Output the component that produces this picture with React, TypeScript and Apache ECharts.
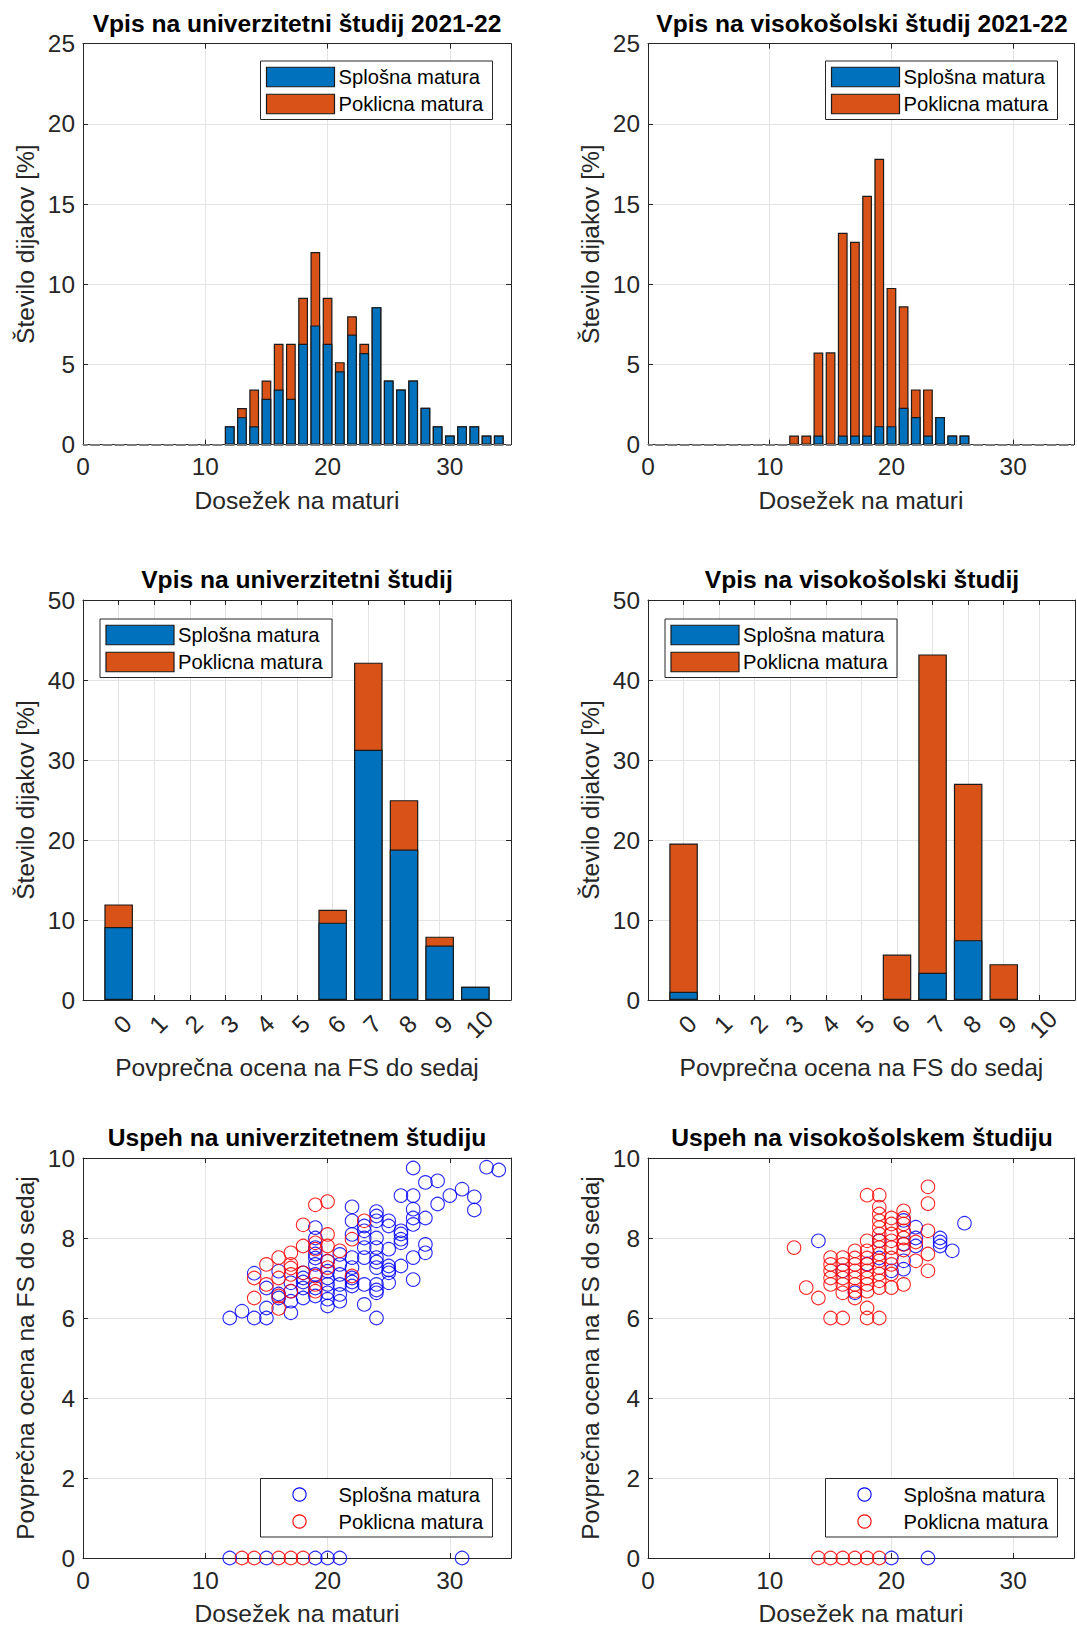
import React, { useEffect, useRef } from "react";
import * as echarts from "echarts";

// ---------- texts ----------
const LEGEND_LABELS = ["Splošna matura", "Poklicna matura"];
const PLOT_TITLES = [
  "Vpis na univerzitetni študij 2021-22",
  "Vpis na visokošolski študij 2021-22",
  "Vpis na univerzitetni študij",
  "Vpis na visokošolski študij",
  "Uspeh na univerzitetnem študiju",
  "Uspeh na visokošolskem študiju",
];
const X_NAME_MATURA = "Dosežek na maturi";
const X_NAME_OCENA = "Povprečna ocena na FS do sedaj";
const Y_NAME_PCT = "Število dijakov [%]";
const Y_NAME_OCENA = "Povprečna ocena na FS do sedaj";

// ---------- tick labels ----------
const MATURA_TICKS = [0, 10, 20, 30];
const PCT25_TICKS = [0, 5, 10, 15, 20, 25];
const PCT50_TICKS = [0, 10, 20, 30, 40, 50];
const OCENA_CATS = [0, 1, 2, 3, 4, 5, 6, 7, 8, 9, 10];
const OCENA_TICKS = [0, 2, 4, 6, 8, 10];

// ---------- top row: histograms over Dosežek ----------
const uniBins = [12, 13, 14, 15, 16, 17, 18, 19, 20, 21, 22, 23, 24, 25, 26, 27, 28, 29, 30, 31, 32, 33, 34];
const uniSplosnaPct = [1.14, 1.71, 1.14, 2.86, 3.43, 2.86, 6.29, 7.43, 6.29, 4.57, 6.86, 5.71, 8.57, 4.0, 3.43, 4.0, 2.29, 1.14, 0.57, 1.14, 1.14, 0.57, 0.57];
const uniPoklicnaPct = [0, 0.57, 2.29, 1.14, 2.86, 3.43, 2.86, 4.57, 2.86, 0.57, 1.14, 0.57, 0, 0, 0, 0, 0, 0, 0, 0, 0, 0, 0];

const visBins = [12, 13, 14, 15, 16, 17, 18, 19, 20, 21, 22, 23, 24, 25, 26];
const visSplosnaPct = [0, 0, 0.57, 0, 0.57, 0.57, 0.57, 1.15, 1.15, 2.3, 1.72, 0.57, 1.72, 0.57, 0.57];
const visPoklicnaPct = [0.57, 0.57, 5.17, 5.75, 12.64, 12.07, 14.94, 16.67, 8.62, 6.32, 1.72, 2.87, 0, 0, 0];

// ---------- middle row: histograms over average grade ----------
const uniOcenaSplosna = [9.13, 0, 0, 0, 0, 0, 9.67, 31.29, 18.8, 6.8, 1.66];
const uniOcenaPoklicna = [2.82, 0, 0, 0, 0, 0, 1.61, 10.88, 6.18, 1.12, 0];
const visOcenaSplosna = [1.03, 0, 0, 0, 0, 0, 0, 3.4, 7.48, 0, 0];
const visOcenaPoklicna = [18.53, 0, 0, 0, 0, 0, 5.68, 39.8, 19.56, 4.48, 0];

// ---------- bottom row: scatter [Dosežek, ocena] ----------
const uniSplosnaPoints: [number, number][] = [
  [12, 0], [15, 0], [19, 0], [20, 0], [21, 0], [31, 0],
  [12, 6.0], [13, 6.17], [14, 6.0], [14, 7.12], [15, 6.0], [15, 6.25], [15, 6.75],
  [16, 6.5], [16, 7.17], [16, 6.6],
  [17, 6.13], [17, 6.42], [17, 6.67], [17, 6.88],
  [18, 6.5], [18, 6.75], [18, 7.0], [18, 7.13], [18, 6.9],
  [19, 8.26], [19, 8.0], [19, 7.76], [19, 7.6], [19, 7.34], [19, 7.09], [19, 6.75], [19, 6.55], [19, 7.5],
  [20, 6.3], [20, 6.47], [20, 6.63], [20, 6.84], [20, 7.0], [20, 7.17], [20, 7.42],
  [21, 6.42], [21, 6.59], [21, 6.84], [21, 7.09], [21, 7.34], [21, 7.59],
  [22, 8.78], [22, 8.43], [22, 8.09], [22, 7.51], [22, 7.26], [22, 7.0], [22, 6.8], [22, 6.9],
  [23, 6.34], [23, 6.84], [23, 7.51], [23, 7.76], [23, 8.0], [23, 8.18], [23, 8.3],
  [24, 6.0], [24, 6.63], [24, 6.84], [24, 7.26], [24, 7.51], [24, 7.76], [24, 8.0], [24, 8.43], [24, 8.55], [24, 8.66], [24, 7.4], [24, 6.7],
  [25, 6.88], [25, 7.13], [25, 7.3], [25, 7.72], [25, 8.3], [25, 8.43], [25, 7.2],
  [26, 7.3], [26, 7.88], [26, 7.97], [26, 8.18], [26, 9.06], [26, 8.1],
  [27, 6.96], [27, 7.51], [27, 8.34], [27, 8.5], [27, 8.72], [27, 9.06], [27, 9.75],
  [28, 7.63], [28, 7.84], [28, 8.5], [28, 9.39],
  [29, 8.85], [29, 9.43],
  [30, 9.06], [31, 9.22], [32, 9.03], [32, 8.7], [33, 9.77], [34, 9.7],
];
const uniPoklicnaPoints: [number, number][] = [
  [13, 0], [14, 0], [16, 0], [17, 0], [18, 0],
  [14, 7.0], [14, 6.5], [15, 7.34], [15, 6.84],
  [16, 7.51], [16, 7.0], [16, 6.55], [16, 6.24],
  [17, 7.63], [17, 7.34], [17, 7.09], [17, 6.67], [17, 7.25],
  [18, 8.33], [18, 7.8], [18, 7.13],
  [19, 8.83], [19, 7.88], [19, 7.72], [19, 7.05], [19, 6.84], [19, 6.67],
  [20, 8.91], [20, 8.09], [20, 7.8], [20, 7.42], [20, 7.26],
  [21, 7.68], [22, 7.97], [22, 7.05], [23, 8.43],
];
const visSplosnaPoints: [number, number][] = [
  [20, 0], [23, 0],
  [14, 7.93], [16, 7.18], [17, 6.63], [18, 7.35], [19, 7.93], [19, 7.5], [20, 7.18],
  [21, 8.44], [21, 7.85], [21, 7.43], [21, 7.22], [22, 8.27], [22, 8.0], [22, 7.8],
  [24, 8.0], [24, 7.8], [24, 7.9], [25, 7.68], [26, 8.37],
];
const visPoklicnaPoints: [number, number][] = [
  [14, 0], [15, 0], [16, 0], [17, 0], [18, 0], [19, 0],
  [12, 7.76], [13, 6.76], [14, 6.5],
  [15, 7.51], [15, 7.34], [15, 7.18], [15, 7.0], [15, 6.84], [15, 6.0],
  [16, 7.51], [16, 7.34], [16, 7.18], [16, 7.0], [16, 6.84], [16, 6.63], [16, 6.0],
  [17, 7.68], [17, 7.5], [17, 7.34], [17, 7.18], [17, 7.0], [17, 6.84], [17, 6.67], [17, 6.5],
  [18, 9.07], [18, 7.93], [18, 7.68], [18, 7.5], [18, 7.34], [18, 7.18], [18, 7.0], [18, 6.84], [18, 6.67], [18, 6.25], [18, 6.0],
  [19, 9.07], [19, 8.77], [19, 8.6], [19, 8.43], [19, 8.26], [19, 8.1], [19, 7.93], [19, 7.76], [19, 7.6], [19, 7.43], [19, 7.26], [19, 7.1], [19, 6.93], [19, 6.76], [19, 6.0],
  [20, 8.5], [20, 8.35], [20, 8.1], [20, 7.93], [20, 7.76], [20, 7.5], [20, 7.34], [20, 7.1], [20, 6.76],
  [21, 8.68], [21, 8.5], [21, 8.35], [21, 8.18], [21, 8.0], [21, 7.84], [21, 7.7], [21, 6.84],
  [22, 7.43], [22, 7.9],
  [23, 9.28], [23, 8.86], [23, 8.18], [23, 7.6], [23, 7.18],
];

// ---------- styling / layout ----------
const FONT = "'Liberation Sans', Arial, Helvetica, sans-serif";
const INK = "#262626";
const GRIDLINE = "#e3e3e3";
const BLUE_BAR = "#0072bd";
const ORANGE_BAR = "#d95319";
const BLUE_PT = "#0000ff";
const RED_PT = "#ff0000";
const TICK_FS = 24.4;
const LABEL_FS = 24.6;
const LEGEND_FS = 20.2;

const COL_LEFT = [83, 648];
const PLOT_W = 428;
const ROW_TOP = [43.6, 600, 1158];
const PLOT_H = [401, 400, 400];

const rect = (g: number) => {
  const row = Math.floor(g / 2);
  const col = g % 2;
  return { left: COL_LEFT[col], top: ROW_TOP[row], width: PLOT_W, height: PLOT_H[row] };
};

const fmt = (labels: number[]) => (v: number) =>
  labels.some((l) => Math.abs(l - v) < 1e-9) ? String(v) : "";

function xAxes(g: number, min: number, max: number, interval: number, labels: number[], name: string, nameGap: number, rotate: boolean) {
  const common = {
    type: "value", gridIndex: g, min, max, interval,
    axisLine: { show: true, onZero: false, lineStyle: { color: INK, width: 1 } },
    axisTick: { show: true, inside: true, length: 5, lineStyle: { color: INK, width: 1 } },
  };
  return [
    {
      ...common, position: "bottom",
      axisLabel: rotate
        ? { rotate: 45, align: "center", verticalAlign: "middle", margin: 28, padding: [0, 0, 0, 11], color: INK, fontSize: TICK_FS, fontFamily: FONT, formatter: fmt(labels) }
        : { margin: 10, color: INK, fontSize: TICK_FS, fontFamily: FONT, formatter: fmt(labels) },
      splitLine: { show: true, lineStyle: { color: GRIDLINE, width: 1 } },
      name, nameLocation: "middle", nameGap,
      nameTextStyle: { color: INK, fontSize: LABEL_FS, fontFamily: FONT },
    },
    { ...common, position: "top", axisLabel: { show: false }, splitLine: { show: false } },
  ];
}

function yAxes(g: number, min: number, max: number, interval: number, labels: number[], name: string) {
  const common = {
    type: "value", gridIndex: g, min, max, interval,
    axisLine: { show: true, onZero: false, lineStyle: { color: INK, width: 1 } },
    axisTick: { show: true, inside: true, length: 5, lineStyle: { color: INK, width: 1 } },
  };
  return [
    {
      ...common, position: "left",
      axisLabel: { margin: 8, color: INK, fontSize: TICK_FS, fontFamily: FONT, formatter: fmt(labels) },
      splitLine: { show: true, lineStyle: { color: GRIDLINE, width: 1 } },
      name, nameLocation: "middle", nameGap: 45, nameRotate: 90,
      nameTextStyle: { color: INK, fontSize: LABEL_FS, fontFamily: FONT },
    },
    { ...common, position: "right", axisLabel: { show: false }, splitLine: { show: false } },
  ];
}

function barPair(g: number, xs: number[], blue: number[], orange: number[], barWidth: number, baseline: boolean) {
  const total = xs.map((x, i) => [x, +(blue[i] + orange[i]).toFixed(3)]).filter((d) => d[1] > 0);
  const bl = xs.map((x, i) => [x, blue[i]]).filter((d) => d[1] > 0);
  const orangeSeries: any = {
    name: LEGEND_LABELS[1], type: "bar", xAxisIndex: 2 * g, yAxisIndex: 2 * g,
    data: total, barWidth, barGap: "-100%", z: 2, silent: true,
    itemStyle: { color: ORANGE_BAR, borderColor: "#1a1a1a", borderWidth: 1.2 },
  };
  if (baseline) {
    const unit = PLOT_W / 35;
    orangeSeries.markLine = {
      silent: true, symbol: ["none", "none"], label: { show: false },
      lineStyle: { color: "#7d7d7d", width: 2, type: [unit * 0.8, unit * 0.2], dashOffset: unit * 0.4 },
      data: [{ yAxis: 0 }],
    };
  }
  const blueSeries = {
    name: LEGEND_LABELS[0], type: "bar", xAxisIndex: 2 * g, yAxisIndex: 2 * g,
    data: bl, barWidth, barGap: "-100%", z: 3, silent: true,
    itemStyle: { color: BLUE_BAR, borderColor: "#1a1a1a", borderWidth: 1.2 },
  };
  return [orangeSeries, blueSeries];
}

function scatter(g: number, name: string, pts: [number, number][], color: string) {
  return {
    name, type: "scatter", xAxisIndex: 2 * g, yAxisIndex: 2 * g, data: pts,
    symbol: "circle", symbolSize: 13.5, clip: false, silent: true, z: 3,
    itemStyle: { color: "rgba(255,255,255,0)", borderColor: color, borderWidth: 1.1, opacity: 0.85 },
  };
}

function legendGraphic(g: number, kind: "bar" | "dot", colors: string[]) {
  const r = rect(g);
  const row = Math.floor(g / 2);
  const W = 232, H = 58.5;
  let bx: number, by: number;
  if (row === 0) { bx = r.left + r.width - 18.5 - W; by = r.top + 17.4; }
  else if (row === 1) { bx = r.left + 17; by = r.top + 19; }
  else { bx = r.left + r.width - 18.5 - W; by = r.top + r.height - 21 - H; }
  const children: any[] = [
    { type: "rect", shape: { x: bx, y: by, width: W, height: H }, style: { fill: "#fff", stroke: INK, lineWidth: 1 }, z: 20 },
  ];
  const centers = [by + 16, by + 43];
  LEGEND_LABELS.forEach((lab, i) => {
    if (kind === "bar") {
      children.push({ type: "rect", shape: { x: bx + 6, y: centers[i] - 9.75, width: 68, height: 19.5 }, style: { fill: colors[i], stroke: "#1a1a1a", lineWidth: 1.2 }, z: 21 });
    } else {
      children.push({ type: "circle", shape: { cx: bx + 39, cy: centers[i], r: 6.6 }, style: { fill: "none", stroke: colors[i], lineWidth: 1.1 }, z: 21 });
    }
    children.push({
      type: "text", x: bx + 78, y: centers[i], z: 21,
      style: { text: lab, fill: "#000", fontSize: LEGEND_FS, fontFamily: FONT, verticalAlign: "middle", textVerticalAlign: "middle", align: "left", textAlign: "left" },
    });
  });
  return children;
}

function buildOption() {
  const grids = [0, 1, 2, 3, 4, 5].map((g) => ({ ...rect(g), containLabel: false, show: false }));

  const xAxis: any[] = [
    ...xAxes(0, 0, 35, 10, MATURA_TICKS, X_NAME_MATURA, 43, false),
    ...xAxes(1, 0, 35, 10, MATURA_TICKS, X_NAME_MATURA, 43, false),
    ...xAxes(2, -1, 11, 1, OCENA_CATS, X_NAME_OCENA, 55, true),
    ...xAxes(3, -1, 11, 1, OCENA_CATS, X_NAME_OCENA, 55, true),
    ...xAxes(4, 0, 35, 10, MATURA_TICKS, X_NAME_MATURA, 43, false),
    ...xAxes(5, 0, 35, 10, MATURA_TICKS, X_NAME_MATURA, 43, false),
  ];
  const yAxis: any[] = [
    ...yAxes(0, 0, 25, 5, PCT25_TICKS, Y_NAME_PCT),
    ...yAxes(1, 0, 25, 5, PCT25_TICKS, Y_NAME_PCT),
    ...yAxes(2, 0, 50, 10, PCT50_TICKS, Y_NAME_PCT),
    ...yAxes(3, 0, 50, 10, PCT50_TICKS, Y_NAME_PCT),
    ...yAxes(4, 0, 10, 2, OCENA_TICKS, Y_NAME_OCENA),
    ...yAxes(5, 0, 10, 2, OCENA_TICKS, Y_NAME_OCENA),
  ];

  const narrow = (PLOT_W / 35) * 0.8;
  const wide = (PLOT_W / 12) * 0.8;
  const series: any[] = [
    ...barPair(0, uniBins, uniSplosnaPct, uniPoklicnaPct, narrow, true),
    ...barPair(1, visBins, visSplosnaPct, visPoklicnaPct, narrow, true),
    ...barPair(2, OCENA_CATS, uniOcenaSplosna, uniOcenaPoklicna, wide, false),
    ...barPair(3, OCENA_CATS, visOcenaSplosna, visOcenaPoklicna, wide, false),
    scatter(4, LEGEND_LABELS[0], uniSplosnaPoints, BLUE_PT),
    scatter(4, LEGEND_LABELS[1], uniPoklicnaPoints, RED_PT),
    scatter(5, LEGEND_LABELS[0], visSplosnaPoints, BLUE_PT),
    scatter(5, LEGEND_LABELS[1], visPoklicnaPoints, RED_PT),
  ];

  const graphic: any[] = [];
  PLOT_TITLES.forEach((t, g) => {
    const r = rect(g);
    graphic.push({
      type: "text", x: r.left + r.width / 2, y: r.top - 20.5, z: 20,
      style: { text: t, fill: "#000", fontSize: LABEL_FS, fontWeight: "bold", fontFamily: FONT, align: "center", textAlign: "center", verticalAlign: "middle", textVerticalAlign: "middle" },
    });
  });
  [0, 1, 2, 3].forEach((g) => graphic.push(...legendGraphic(g, "bar", [BLUE_BAR, ORANGE_BAR])));
  [4, 5].forEach((g) => graphic.push(...legendGraphic(g, "dot", [BLUE_PT, RED_PT])));

  return {
    animation: false,
    backgroundColor: "#fff",
    textStyle: { fontFamily: FONT },
    grid: grids,
    xAxis,
    yAxis,
    series,
    graphic,
  };
}

export default function App() {
  const ref = useRef<HTMLDivElement>(null);
  useEffect(() => {
    if (!ref.current) return;
    const chart = echarts.init(ref.current, undefined, { renderer: "svg" });
    chart.setOption(buildOption() as any);
    return () => chart.dispose();
  }, []);
  return (
    <div
      ref={ref}
      style={{ position: "fixed", left: 0, top: 0, width: 1077, height: 1628, background: "#fff" }}
    />
  );
}
